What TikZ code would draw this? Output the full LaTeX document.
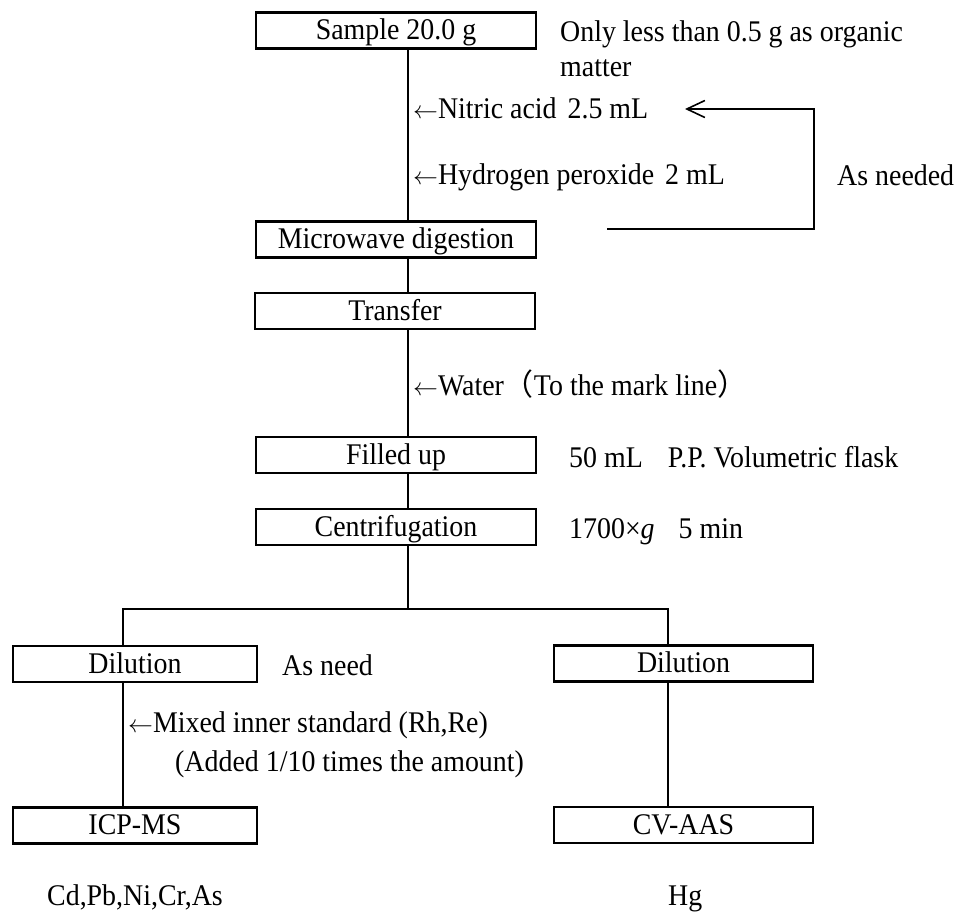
\documentclass[tikz,border=0pt]{standalone}
\usepackage{fontspec}
\setmainfont{Liberation Serif}[FakeStretch=0.93]
\newfontfamily\cjkfont{Noto Sans CJK JP}
\usetikzlibrary{arrows.meta}
\newcommand{\larr}{\ensuremath{\leftarrow}}
\begin{document}
\begin{tikzpicture}[x=1pt,y=-1pt,
  every node/.style={font=\fontsize{30}{36}\selectfont, inner sep=0pt},
  stepbox/.style={draw, line width=2.8pt, minimum height=36pt, align=center, text height=20pt, text depth=2pt},
  midbox/.style={stepbox, minimum width=280pt},
  leftbox/.style={stepbox, minimum width=244pt},
  rightbox/.style={stepbox, minimum width=259pt},
  note/.style={anchor=base west},
  flow/.style={line width=2.6pt},
  loopline/.style={line width=2pt}]
\useasboundingbox (0,0) rectangle (955,911);
% boxes
\node[midbox] (sample) at (396,30.5) {Sample 20.0 g};
\node[midbox] (micro) at (396,239.5) {Microwave digestion};
\node[midbox] (transfer) at (395,311) {Transfer};
\node[midbox] (filled) at (396,455) {Filled up};
\node[midbox] (centri) at (396,527) {Centrifugation};
\node[leftbox] (dilL) at (135,664) {Dilution};
\node[leftbox] (icp) at (135,825.5) {ICP-MS};
\node[rightbox] (dilR) at (683.5,663.5) {Dilution};
\node[rightbox] (cvaas) at (683.5,825) {CV-AAS};
% guide coordinates
\coordinate (mx) at (408,0);
\coordinate (lx) at (123,0);
\coordinate (rx) at (668,0);
\coordinate (split) at (408,609);
% main flow
\draw[flow] (sample.south -| mx) -- (micro.north -| mx);
\draw[flow] (micro.south -| mx) -- (transfer.north -| mx);
\draw[flow] (transfer.south -| mx) -- (filled.north -| mx);
\draw[flow] (filled.south -| mx) -- (centri.north -| mx);
\draw[flow] (centri.south -| mx) -- (split);
\draw[flow] (dilL.north -| lx) |- (split) -| (dilR.north -| rx);
\draw[flow] (dilL.south -| lx) -- (icp.north -| lx);
\draw[flow] (dilR.south -| rx) -- (cvaas.north -| rx);
% notes
\node[note] (only1) at (560,41) {Only less than 0.5 g as organic};
\node[note] (only2) at (560,76) {matter};
\node[note] (nitric) at (413,118) {\larr Nitric acid\hspace{11pt}2.5 mL};
\node[note] (hydro) at (413,184) {\larr Hydrogen peroxide\hspace{11pt}2 mL};
\node[note] (asneeded) at (837,185) {As needed};
\node[note] (water) at (413,395) {\larr Water{\cjkfont （}To the mark line{\cjkfont ）}};
\node[note] (vol) at (569,467) {50 mL\hspace{25pt}P.P. Volumetric flask};
\node[note] (cond) at (569,538) {1700×\textit{g}\hspace{24pt}5 min};
\node[note] (asneed) at (282,675) {As need};
\node[note] (mixed) at (128,732) {\larr Mixed inner standard (Rh,Re)};
\node[note] (added) at (175,771) {(Added 1/10 times the amount)};
\node[note] (cd) at (47,905) {Cd,Pb,Ni,Cr,As};
\node[note] (hg) at (668,905) {Hg};
% feedback loop
\coordinate (le) at (607,229);
\coordinate (lb) at (814,229);
\coordinate (lt) at (814,109);
\coordinate (tip) at (685,109);
\draw[loopline, -{Straight Barb[length=18pt,width=17pt,line width=1.6pt]}] (le) -- (lb) -- (lt) -- (tip);
\end{tikzpicture}
\end{document}
